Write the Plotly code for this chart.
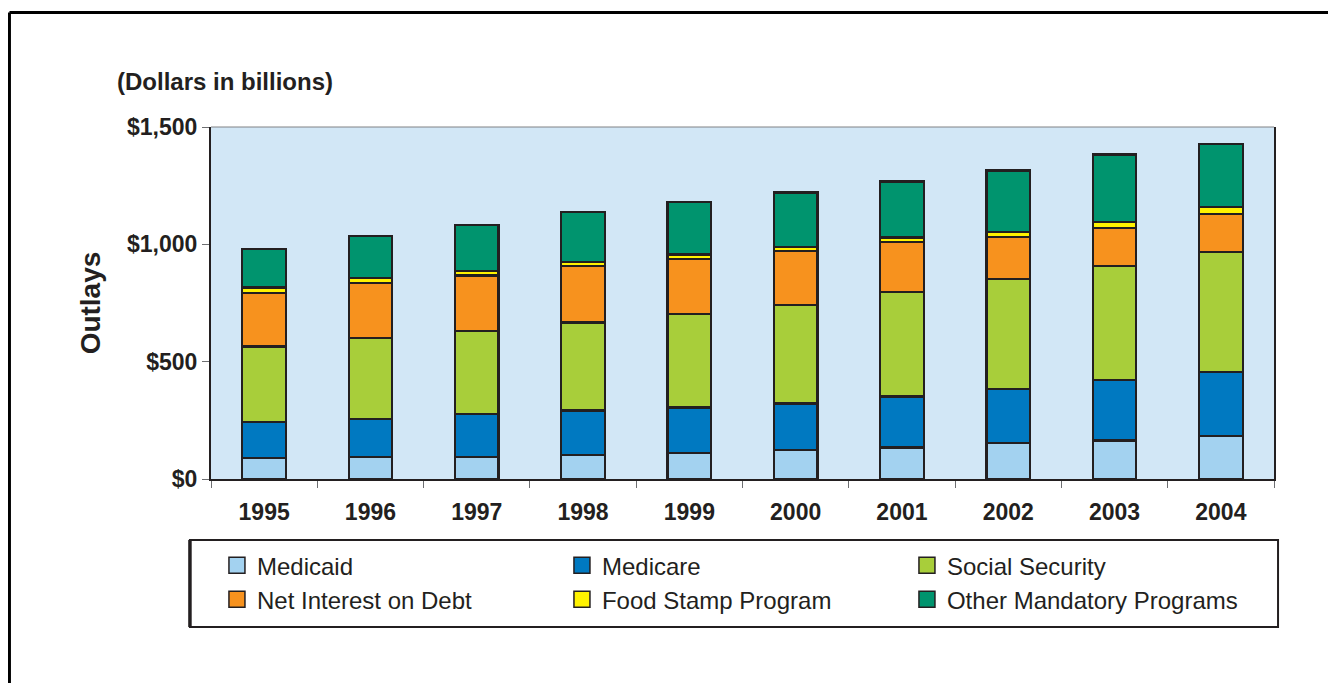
import plotly.graph_objects as go

# Dati (miliardi di dollari)
anni = ["1995", "1996", "1997", "1998", "1999", "2000", "2001", "2002", "2003", "2004"]
medicaid = [90, 94, 95, 103, 111, 125, 134, 152, 164, 182]
medicare = [152, 162, 181, 189, 194, 197, 218, 233, 259, 275]
social_security = [323, 346, 356, 375, 399, 419, 446, 467, 486, 509]
net_interest = [227, 232, 235, 240, 232, 230, 212, 178, 159, 163]
food_stamps = [24, 24, 21, 19, 21, 19, 19, 23, 27, 30]
other_mandatory = [164, 178, 196, 212, 224, 231, 239, 262, 288, 267]

y_tick_vals = [0, 500, 1000, 1500]
y_tick_text = ["$0", "$500", "$1,000", "$1,500"]

serie = [
    ("Medicaid", medicaid, "#a3d2f0"),
    ("Medicare", medicare, "#0079c1"),
    ("Social Security", social_security, "#a8ce3a"),
    ("Net Interest on Debt", net_interest, "#f7921e"),
    ("Food Stamp Program", food_stamps, "#fff200"),
    ("Other Mandatory Programs", other_mandatory, "#00946e"),
]

SCURO = "#231f20"
FONT = "Liberation Sans, Arial, sans-serif"

fig = go.Figure()

for nome, valori, colore in serie:
    fig.add_trace(go.Bar(x=anni, y=valori, name=nome, showlegend=False,
                         width=0.41,
                         marker=dict(color=colore, line=dict(color=SCURO, width=2.2))))

# Tracce fittizie per avere simboli della legenda più grandi
for nome, valori, colore in serie:
    fig.add_trace(go.Scatter(x=[None], y=[None], name=nome, mode="markers",
                             marker=dict(symbol="square", size=16, color=colore,
                                         line=dict(color=SCURO, width=1.5))))

fig.update_layout(
    width=1336, height=683,
    margin=dict(l=203, r=70, t=119, b=212),
    barmode="stack",
    plot_bgcolor="#d2e7f6",
    paper_bgcolor="white",
    font=dict(family=FONT, color=SCURO),
    legend=dict(orientation="h", x=0.0056, y=-0.182, xanchor="left", yanchor="top",
                borderwidth=0, bgcolor="rgba(0,0,0,0)", traceorder="normal",
                entrywidth=300, entrywidthmode="pixels",
                itemsizing="trace",
                font=dict(family=FONT, size=24, color=SCURO)),
)

fig.update_xaxes(type="category", showline=True, linecolor=SCURO, linewidth=2,
                 ticks="outside", tickson="boundaries", ticklen=7, tickcolor="#6d6e71",
                 ticklabelstandoff=11,
                 tickfont=dict(family=FONT, size=23, weight="bold", color=SCURO),
                 showgrid=False)
fig.update_yaxes(range=[0, 1500], tickvals=y_tick_vals, ticktext=y_tick_text,
                 showline=True, mirror=True, linecolor=SCURO, linewidth=2,
                 ticks="outside", ticklen=7, tickcolor="#6d6e71",
                 tickfont=dict(family=FONT, size=23, weight="bold", color=SCURO),
                 showgrid=False, zeroline=False,
                 title=dict(text="Outlays", standoff=18,
                            font=dict(family=FONT, size=28, weight="bold", color=SCURO)))

# Bordo superiore grigio dell'area del grafico e cornice esterna
fig.add_shape(type="line", xref="paper", yref="paper", x0=0, x1=1, y0=1, y1=1,
              line=dict(color="#808285", width=1))
fig.add_shape(type="line", xref="paper", yref="paper", x0=-0.1896, x1=1.1,
              y0=1.3253, y1=1.3253, line=dict(color="black", width=3))
fig.add_shape(type="line", xref="paper", yref="paper", x0=-0.1896, x1=-0.1896,
              y0=1.3253, y1=-0.7, line=dict(color="black", width=3))
# Riquadro della legenda
fig.add_shape(type="rect", xref="paper", yref="paper", x0=-0.0198, x1=1.0038,
              y0=-0.4205, y1=-0.1733, line=dict(color=SCURO, width=2))
fig.add_shape(type="line", xref="paper", yref="paper", x0=-0.0198, x1=-0.0198,
              y0=-0.4205, y1=-0.1733, line=dict(color=SCURO, width=3.5))

fig.add_annotation(text="(Dollars in billions)", xref="paper", yref="paper",
                   x=-0.0903, y=1.128, xanchor="left", yanchor="middle", showarrow=False,
                   font=dict(family=FONT, size=24, weight="bold", color=SCURO))

fig.write_html("out.html")
